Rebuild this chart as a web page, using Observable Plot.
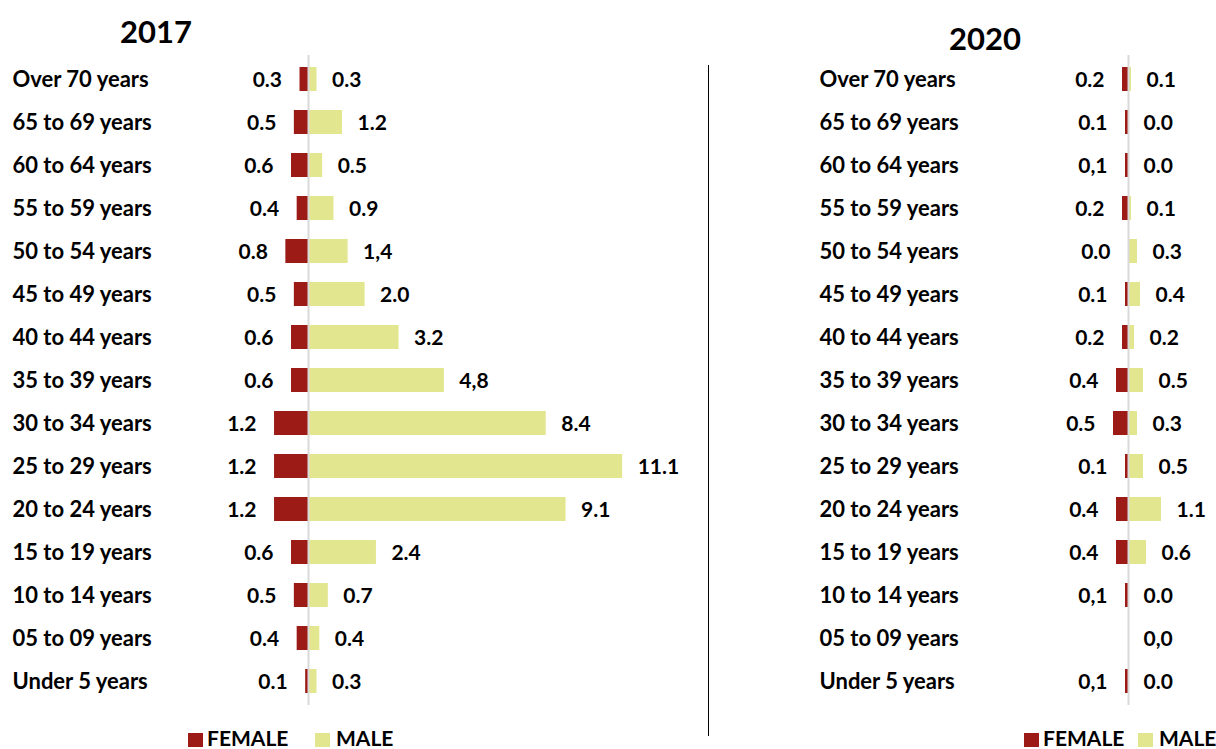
<!DOCTYPE html>
<html><head><meta charset="utf-8">
<script src="https://cdn.jsdelivr.net/npm/d3@7"></script>
<script src="https://cdn.jsdelivr.net/npm/@observablehq/plot@0.6"></script>
<style>
html,body{margin:0;padding:0;background:#fff;overflow:hidden;}
#root{position:relative;width:1216px;height:749px;overflow:hidden;font-family:Lato,"Open Sans",sans-serif;font-weight:bold;color:#000;}
.abs{position:absolute;white-space:nowrap;line-height:1;}
.title{font-size:31px;transform:translateX(-50%);}
.lg{font-size:21px;}
.sw{position:absolute;width:15px;height:14px;}
</style></head><body><div id="root"></div>
<script>
const categories = ["Over 70 years","65 to 69 years","60 to 64 years","55 to 59 years","50 to 54 years","45 to 49 years","40 to 44 years","35 to 39 years","30 to 34 years","25 to 29 years","20 to 24 years","15 to 19 years","10 to 14 years","05 to 09 years","Under 5 years"];

const female2017 = [0.3,0.5,0.6,0.4,0.8,0.5,0.6,0.6,1.2,1.2,1.2,0.6,0.5,0.4,0.1];
const male2017   = [0.3,1.2,0.5,0.9,1.4,2.0,3.2,4.8,8.4,11.1,9.1,2.4,0.7,0.4,0.3];
const femaleLabels2017 = ["0.3","0.5","0.6","0.4","0.8","0.5","0.6","0.6","1.2","1.2","1.2","0.6","0.5","0.4","0.1"];
const maleLabels2017   = ["0.3","1.2","0.5","0.9","1,4","2.0","3.2","4,8","8.4","11.1","9.1","2.4","0.7","0.4","0.3"];

const female2020 = [0.2,0.1,0.1,0.2,0.0,0.1,0.2,0.4,0.5,0.1,0.4,0.4,0.1,0.0,0.1];
const male2020   = [0.1,0.0,0.0,0.1,0.3,0.4,0.2,0.5,0.3,0.5,1.1,0.6,0.0,0.0,0.0];
const femaleLabels2020 = ["0.2","0.1","0,1","0.2","0.0","0.1","0.2","0.4","0.5","0.1","0.4","0.4","0,1","","0,1"];
const maleLabels2020   = ["0.1","0.0","0.0","0.1","0.3","0.4","0.2","0.5","0.3","0.5","1.1","0.6","0.0","0,0","0.0"];

const years = ["2017","2020"];
const legendLabels = ["FEMALE","MALE"];

const FEMALE_COLOR = "#9C1B16";
const MALE_COLOR = "#E2E68E";

const root = document.getElementById("root");

function panel({female, male, femaleLabels, maleLabels, left, width, zeroX, unit, labelX}) {
  const rows = categories.map((c, i) => ({cat: c, f: female[i], m: male[i], fl: femaleLabels[i], ml: maleLabels[i]}));
  const chart = Plot.plot({
    width, height: 650,
    marginTop: 0, marginBottom: 0, marginLeft: labelX, marginRight: 0,
    x: {domain: [0, 1], range: [zeroX, zeroX + unit], axis: null},
    y: {domain: categories, paddingInner: 0.45, paddingOuter: 0.225, axis: null},
    style: {fontFamily: "Lato, 'Open Sans', sans-serif", fontWeight: "bold", fontSize: "20px", color: "#000", background: "transparent", overflow: "visible"},
    marks: [
      Plot.barX(rows, {y: "cat", x1: 0, x2: d => -d.f, fill: FEMALE_COLOR}),
      Plot.barX(rows, {y: "cat", x1: 0, x2: "m", fill: MALE_COLOR}),
      Plot.ruleX([0], {stroke: "#d9d9d9", strokeWidth: 2}),
      Plot.text(rows, {y: "cat", frameAnchor: "left", text: "cat", textAnchor: "start", fontWeight: "bold", fontSize: 22, fill: "#000"}),
      Plot.text(rows, {y: "cat", x: d => -d.f, text: "fl", textAnchor: "end", dx: -18, dy: 1, fontWeight: "bold", fontSize: 21, fill: "#000"}),
      Plot.text(rows, {y: "cat", x: "m", text: "ml", textAnchor: "start", dx: 15, dy: 1, fontWeight: "bold", fontSize: 21, fill: "#000"})
    ]
  });
  chart.style.position = "absolute";
  chart.style.left = left + "px";
  chart.style.top = "55px";
  root.appendChild(chart);
}

panel({female: female2017, male: male2017, femaleLabels: femaleLabels2017, maleLabels: maleLabels2017,
       left: 0, width: 708, zeroX: 308, unit: 28.3, labelX: 12});
panel({female: female2020, male: male2020, femaleLabels: femaleLabels2020, maleLabels: maleLabels2020,
       left: 708, width: 508, zeroX: 420, unit: 30, labelX: 111});

function addText(txt, cls, x, top) {
  const d = document.createElement("div");
  d.className = "abs " + cls;
  d.textContent = txt;
  d.style.left = x + "px";
  d.style.top = top + "px";
  root.appendChild(d);
}
addText(years[0], "title", 156, 16);
addText(years[1], "title", 985, 23);

// separator
const sep = document.createElement("div");
sep.style.cssText = "position:absolute;left:708px;top:65px;width:1px;height:671px;background:#000;";
root.appendChild(sep);

function legend(positions) {
  [FEMALE_COLOR, MALE_COLOR].forEach((col, i) => {
    const s = document.createElement("div");
    s.className = "sw";
    s.style.background = col;
    s.style.left = positions[i][0] + "px";
    s.style.top = "733px";
    root.appendChild(s);
    addText(legendLabels[i], "lg", positions[i][1], 727);
  });
}
legend([[188, 207], [315, 336]]);
legend([[1024, 1043], [1138, 1159]]);
</script>
</body></html>
